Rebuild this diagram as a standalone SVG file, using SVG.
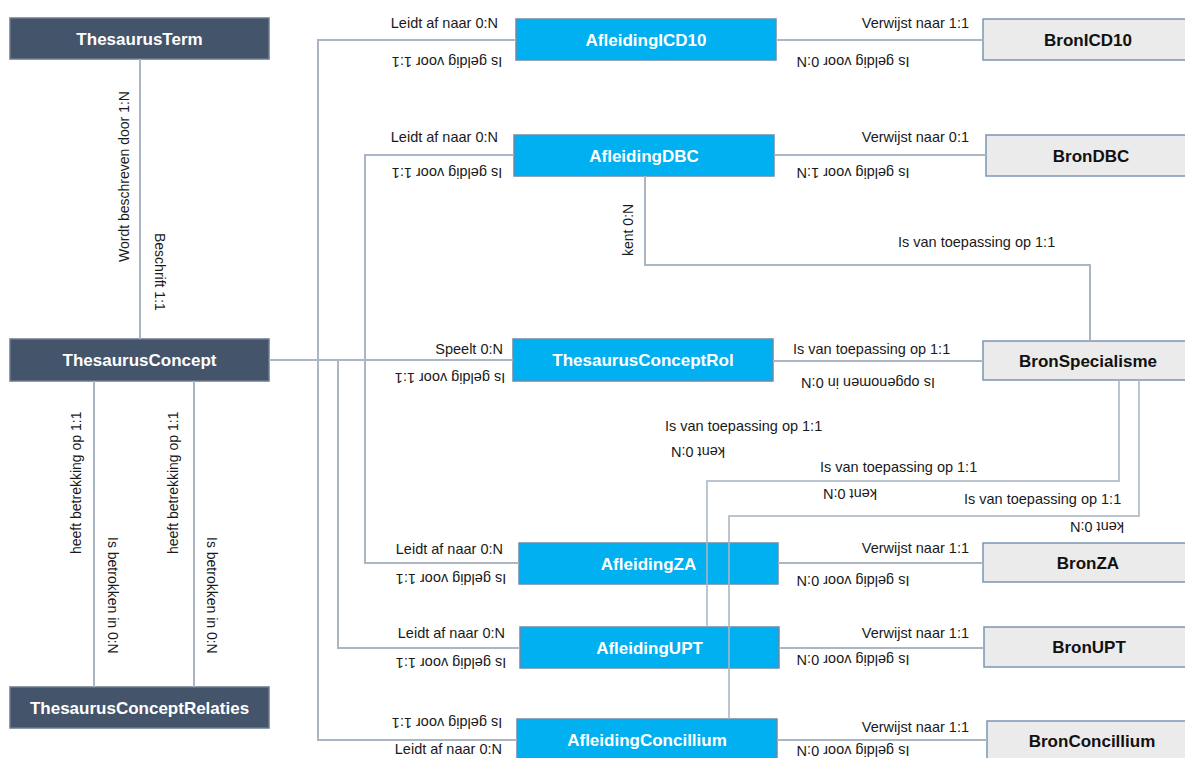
<svg xmlns="http://www.w3.org/2000/svg" width="1185" height="758" viewBox="0 0 1185 758">
<style>
.dark{fill:#44546a;stroke:#6b7a8f;stroke-width:1.5}
.blue{fill:#00b0f0;stroke:#6a8aa6;stroke-width:1.5}
.bron{fill:#ebebeb;stroke:#7b96b4;stroke-width:1.5}
.t{font-family:"Liberation Sans",Arial,sans-serif;font-size:17px;font-weight:bold;text-anchor:middle}
.tw{fill:#ffffff}
.tb{fill:#111111}
.lbl{font-family:"Liberation Sans",Arial,sans-serif;font-size:14.5px;fill:#1a1a1a}
.v{font-size:14px}
.e{text-anchor:end}
.m{text-anchor:middle}
.c{fill:none;stroke:#aab6c4;stroke-width:2}
</style>
<rect width="1185" height="758" fill="#ffffff"/>
<g id="nodes">
<g id="ThesaurusTerm"><rect class="dark" x="10" y="18" width="259" height="41"/><text class="t tw" x="139.5" y="44.5">ThesaurusTerm</text></g>
<g id="ThesaurusConcept"><rect class="dark" x="10" y="339" width="259" height="42"/><text class="t tw" x="139.5" y="366">ThesaurusConcept</text></g>
<g id="ThesaurusConceptRelaties"><rect class="dark" x="10" y="687" width="259" height="41"/><text class="t tw" x="139.5" y="713.5">ThesaurusConceptRelaties</text></g>
<g id="AfleidingICD10"><rect class="blue" x="516" y="19" width="260" height="41"/><text class="t tw" x="646" y="45.5">AfleidingICD10</text></g>
<g id="AfleidingDBC"><rect class="blue" x="514" y="135" width="260" height="41"/><text class="t tw" x="644" y="161.5">AfleidingDBC</text></g>
<g id="ThesaurusConceptRol"><rect class="blue" x="513" y="339" width="260" height="42"/><text class="t tw" x="643" y="366">ThesaurusConceptRol</text></g>
<g id="AfleidingZA"><rect class="blue" x="519" y="543" width="259" height="41"/><text class="t tw" x="648.5" y="569.5">AfleidingZA</text></g>
<g id="AfleidingUPT"><rect class="blue" x="520" y="627" width="259" height="41"/><text class="t tw" x="649.5" y="653.5">AfleidingUPT</text></g>
<g id="AfleidingConcillium"><rect class="blue" x="517" y="719" width="260" height="45"/><text class="t tw" x="647" y="746">AfleidingConcillium</text></g>
<g id="BronICD10"><rect class="bron" x="983" y="19" width="212" height="41"/><text class="t tb" x="1088" y="45.5">BronICD10</text></g>
<g id="BronDBC"><rect class="bron" x="986" y="135" width="212" height="41"/><text class="t tb" x="1091" y="161.5">BronDBC</text></g>
<g id="BronSpecialisme"><rect class="bron" x="983" y="341" width="212" height="39"/><text class="t tb" x="1088" y="366.5">BronSpecialisme</text></g>
<g id="BronZA"><rect class="bron" x="983" y="543" width="212" height="39"/><text class="t tb" x="1088" y="568.5">BronZA</text></g>
<g id="BronUPT"><rect class="bron" x="984" y="627" width="212" height="40"/><text class="t tb" x="1089" y="653">BronUPT</text></g>
<g id="BronConcillium"><rect class="bron" x="987" y="721" width="212" height="45"/><text class="t tb" x="1092" y="747">BronConcillium</text></g>
</g>
<g id="connectors">
<path class="c" d="M140 59V339"/>
<path class="c" d="M94 381V687"/>
<path class="c" d="M194 381V687"/>
<path class="c" d="M269 360H513"/>
<path class="c" d="M516 40H318V740H517"/>
<path class="c" d="M514 155H365V563H519"/>
<path class="c" d="M338 360V648H520"/>
<path class="c" d="M776 40H983"/>
<path class="c" d="M774 155H986"/>
<path class="c" d="M773 361H983"/>
<path class="c" d="M778 563H983"/>
<path class="c" d="M779 648H984"/>
<path class="c" d="M777 740H987"/>
<path class="c" d="M645 176V265H1090V341"/>
<path class="c" d="M1119 380V481H707V627" stroke-opacity="0.8"/>
<path class="c" d="M1139 380V516H729V719" stroke-opacity="0.8"/>
</g>
<g id="labels">
<text class="lbl v" transform="translate(129 262) rotate(-90)">Wordt beschreven door 1:N</text>
<text class="lbl v" transform="translate(155 233) rotate(90)">Beschrift 1:1</text>
<text class="lbl v" transform="translate(81 554) rotate(-90)">heeft betrekking op 1:1</text>
<text class="lbl v" transform="translate(108 537) rotate(90)">Is betrokken in 0:N</text>
<text class="lbl v" transform="translate(178 554) rotate(-90)">heeft betrekking op 1:1</text>
<text class="lbl v" transform="translate(207 537) rotate(90)">Is betrokken in 0:N</text>
<text class="lbl v" transform="translate(633 256) rotate(-90)">kent  0:N</text>

<text class="lbl e" x="498" y="28">Leidt af naar 0:N</text>
<text class="lbl m" transform="translate(447 62) rotate(180)" y="5">Is geldig voor 1:1</text>
<text class="lbl e" x="969" y="28">Verwijst naar 1:1</text>
<text class="lbl m" transform="translate(853 62) rotate(180)" y="5">Is geldig voor 0:N</text>

<text class="lbl e" x="498" y="142">Leidt af naar 0:N</text>
<text class="lbl m" transform="translate(447 173) rotate(180)" y="5">Is geldig voor 1:1</text>
<text class="lbl e" x="969" y="142">Verwijst naar 0:1</text>
<text class="lbl m" transform="translate(853 173) rotate(180)" y="5">Is geldig voor 1:N</text>

<text class="lbl" x="898" y="247">Is van toepassing op 1:1</text>

<text class="lbl e" x="503" y="354">Speelt 0:N</text>
<text class="lbl m" transform="translate(450 378) rotate(180)" y="5">Is geldig voor 1:1</text>
<text class="lbl" x="793" y="354">Is van toepassing op 1:1</text>
<text class="lbl m" transform="translate(868 383) rotate(180)" y="5">Is opgenomen in 0:N</text>

<text class="lbl" x="665" y="431">Is van toepassing op 1:1</text>
<text class="lbl m" transform="translate(698 452) rotate(180)" y="5">kent  0:N</text>
<text class="lbl" x="820" y="472">Is van toepassing op 1:1</text>
<text class="lbl m" transform="translate(850 494) rotate(180)" y="5">kent  0:N</text>
<text class="lbl" x="964" y="504">Is van toepassing op 1:1</text>
<text class="lbl m" transform="translate(1097 527) rotate(180)" y="5">kent  0:N</text>

<text class="lbl e" x="503" y="554">Leidt af naar 0:N</text>
<text class="lbl m" transform="translate(451 579) rotate(180)" y="5">Is geldig voor 1:1</text>
<text class="lbl e" x="969" y="553">Verwijst naar 1:1</text>
<text class="lbl m" transform="translate(853 581) rotate(180)" y="5">Is geldig voor 0:N</text>

<text class="lbl e" x="505" y="638">Leidt af naar 0:N</text>
<text class="lbl m" transform="translate(451 663) rotate(180)" y="5">Is geldig voor 1:1</text>
<text class="lbl e" x="969" y="638">Verwijst naar 1:1</text>
<text class="lbl m" transform="translate(853 660) rotate(180)" y="5">Is geldig voor 0:N</text>

<text class="lbl m" transform="translate(447 723) rotate(180)" y="5">Is geldig voor 1:1</text>
<text class="lbl e" x="502" y="754">Leidt af naar 0:N</text>
<text class="lbl e" x="969" y="732">Verwijst naar 1:1</text>
<text class="lbl m" transform="translate(853 751) rotate(180)" y="5">Is geldig voor 0:N</text>
</g>
</svg>
